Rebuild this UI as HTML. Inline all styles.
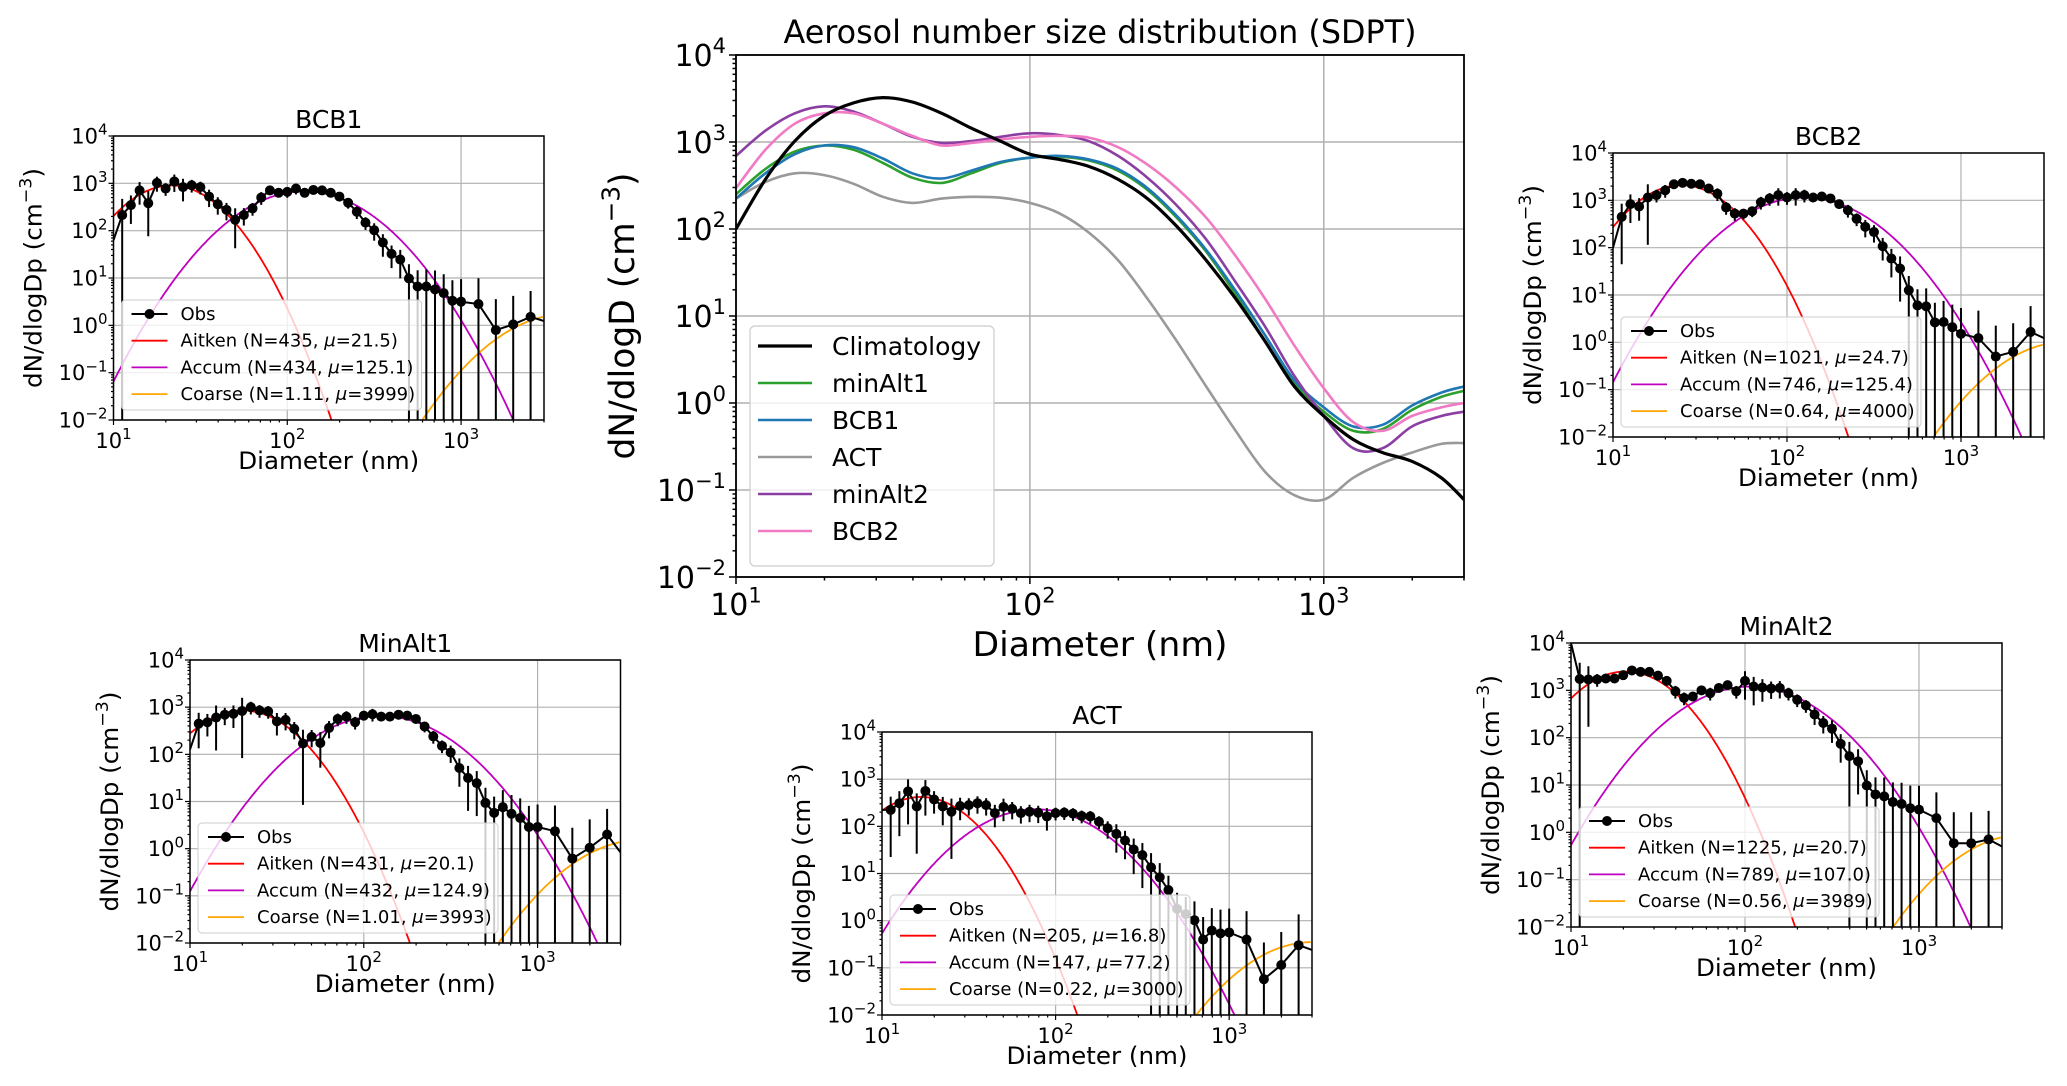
<!DOCTYPE html>
<html><head><meta charset="utf-8"><style>
html,body{margin:0;padding:0;background:#fff;}
svg{display:block;font-family:"DejaVu Sans","Liberation Sans",sans-serif;}
</style></head><body>
<svg id="fig" width="2067" height="1086" viewBox="0 0 2067 1086" xmlns="http://www.w3.org/2000/svg"></svg>
<script>
// ---------- shared categories ----------
const obsDiameters=[11.22,12.59,14.13,15.85,17.78,19.95,22.39,25.12,28.18,31.62,35.48,39.81,44.67,50.12,56.23,63.10,70.79,79.43,89.13,100,112.2,125.9,141.3,158.5,177.8,199.5,223.9,251.2,281.8,316.2,354.8,398.1,446.7,501.2,562.3,631.0,707.9,794.3,891.3,1000,1259,1585,1995,2512];
const yTickExps=[-2,-1,0,1,2,3,4];
const xTickExps=[1,2,3];
const modeNames=["Aitken","Accum","Coarse"];

// ---------- BCB1 ----------
const bcb1ObsLog=[2.33,2.54,2.85,2.58,3.01,2.89,3.04,2.92,2.96,2.92,2.72,2.56,2.44,2.23,2.33,2.47,2.70,2.85,2.80,2.82,2.89,2.80,2.86,2.85,2.80,2.72,2.59,2.40,2.17,2.01,1.75,1.51,1.39,0.99,0.82,0.82,0.76,0.68,0.52,0.50,0.45,-0.10,0.02,0.18];
const bcb1ObsErr=[1.2,0.6,0.5,0.8,0.35,0.3,0.4,0.5,0.3,0.3,0.4,0.4,0.4,0.75,0.4,0.3,0.3,0.2,0.2,0.25,0.25,0.2,0.2,0.2,0.2,0.2,0.25,0.3,0.3,0.4,0.5,0.5,0.6,1.0,1.2,1.3,1.5,1.5,1.7,2.0,2.5,3.5,3.0,2.5];
const bcb1EdgeLog=[1.8,0.09];
const bcb1ModeN=[435,434,1.11];
const bcb1ModeMu=[21.5,125.1,3999];
const bcb1ModeSig=[0.193,0.255,0.257];

// ---------- BCB2 ----------
const bcb2ObsLog=[2.65,2.92,2.87,3.06,3.11,3.21,3.34,3.37,3.35,3.34,3.25,3.14,2.85,2.72,2.72,2.77,2.96,3.04,3.11,3.06,3.11,3.11,3.06,3.08,3.04,2.92,2.79,2.61,2.44,2.33,2.03,1.77,1.56,1.10,0.78,0.76,0.42,0.43,0.32,0.18,0.09,-0.30,-0.20,0.22];
const bcb2ObsErr=[0.9,0.6,0.5,0.9,0.3,0.3,0.2,0.2,0.2,0.2,0.2,0.3,0.3,0.3,0.25,0.25,0.3,0.3,0.4,0.3,0.4,0.3,0.2,0.2,0.2,0.2,0.3,0.3,0.4,0.4,0.5,0.6,0.8,1.0,1.2,1.4,1.6,1.8,2.0,2.5,2.8,3.5,3.0,2.5];
const bcb2EdgeLog=[2.0,0.09];
const bcb2ModeN=[1021,746,0.64];
const bcb2ModeMu=[24.7,125.4,4000];
const bcb2ModeSig=[0.194,0.259,0.25];

// ---------- MinAlt1 ----------
const minalt1ObsLog=[2.65,2.68,2.78,2.84,2.86,2.92,3.00,2.93,2.91,2.70,2.73,2.54,2.23,2.37,2.24,2.56,2.75,2.80,2.68,2.82,2.85,2.80,2.80,2.84,2.82,2.75,2.59,2.38,2.18,2.04,1.71,1.50,1.39,0.97,0.76,0.88,0.74,0.65,0.46,0.46,0.37,-0.21,0.02,0.30];
const minalt1ObsErr=[0.7,0.5,0.8,0.4,0.5,0.9,0.3,0.3,0.3,0.5,0.4,0.4,0.95,0.4,0.7,0.4,0.3,0.3,0.3,0.2,0.3,0.2,0.2,0.2,0.2,0.2,0.25,0.3,0.3,0.4,0.6,0.8,0.8,1.1,1.2,1.3,1.5,1.6,1.8,2.0,2.5,3.5,3.0,2.5];
const minalt1EdgeLog=[2.1,-0.08];
const minalt1ModeN=[431,432,1.01];
const minalt1ModeMu=[20.1,124.9,3993];
const minalt1ModeSig=[0.202,0.265,0.26];

// ---------- ACT ----------
const actObsLog=[2.35,2.49,2.74,2.42,2.75,2.57,2.42,2.31,2.43,2.45,2.49,2.45,2.28,2.41,2.37,2.28,2.31,2.29,2.21,2.28,2.29,2.27,2.22,2.21,2.10,1.96,1.84,1.70,1.51,1.39,1.13,0.92,0.65,0.25,0.14,0.01,-0.40,-0.21,-0.27,-0.25,-0.40,-1.24,-0.94,-0.52];
const actObsErr=[0.9,0.8,0.8,0.9,0.7,0.5,0.6,0.9,0.5,0.4,0.4,0.4,0.5,0.5,0.4,0.4,0.4,0.4,0.5,0.3,0.3,0.3,0.3,0.3,0.3,0.4,0.6,0.6,0.7,0.8,1.0,1.0,1.0,1.2,1.3,1.5,2.0,2.0,2.2,2.2,3.0,5.0,4.0,3.5];
const actEdgeLog=[2.35,-0.62];
const actModeN=[205,147,0.22];
const actModeMu=[16.8,77.2,3000];
const actModeSig=[0.195,0.255,0.25];

// ---------- MinAlt2 ----------
const minalt2ObsLog=[3.24,3.23,3.23,3.25,3.25,3.32,3.42,3.39,3.39,3.31,3.20,2.98,2.84,2.87,3.00,2.94,3.05,3.11,2.98,3.20,3.08,3.06,3.04,3.05,2.94,2.80,2.68,2.49,2.31,2.19,1.87,1.61,1.50,0.99,0.80,0.76,0.64,0.60,0.51,0.48,0.30,-0.23,-0.23,-0.15];
const minalt2ObsErr=[1.2,0.9,0.3,0.2,0.2,0.2,0.2,0.2,0.2,0.2,0.2,0.3,0.3,0.2,0.2,0.3,0.2,0.2,0.3,0.6,0.6,0.5,0.4,0.4,0.3,0.3,0.3,0.4,0.4,0.5,0.6,1.0,0.8,1.1,1.3,1.5,1.6,1.8,2.0,2.2,2.5,3.5,3.5,3.0];
const minalt2EdgeLog=[4.0,-0.30];
const minalt2ModeN=[1225,789,0.56];
const minalt2ModeMu=[20.7,107.0,3989];
const minalt2ModeSig=[0.195,0.262,0.25];

// ---------- main chart (log10 dN/dlogD at sampled diameters) ----------
const mainLogD=[1.0,1.1,1.2,1.3,1.4,1.5,1.6,1.7,1.8,1.9,2.0,2.1,2.2,2.3,2.4,2.5,2.6,2.7,2.8,2.9,3.0,3.1,3.2,3.3,3.4,3.477];
const climatologyLog=[2.0,2.57,3.01,3.30,3.45,3.51,3.46,3.33,3.16,3.01,2.86,2.80,2.72,2.57,2.35,2.03,1.64,1.20,0.71,0.19,-0.15,-0.42,-0.57,-0.67,-0.86,-1.11];
const minAlt1Log=[2.40,2.69,2.89,2.96,2.91,2.76,2.59,2.53,2.64,2.76,2.82,2.83,2.79,2.67,2.45,2.13,1.74,1.25,0.71,0.22,-0.10,-0.32,-0.30,-0.08,0.07,0.14];
const bcb1Log=[2.35,2.64,2.86,2.96,2.94,2.81,2.64,2.58,2.67,2.77,2.82,2.84,2.80,2.69,2.47,2.15,1.76,1.29,0.78,0.26,-0.05,-0.27,-0.25,-0.03,0.12,0.19];
const actLog=[2.35,2.54,2.64,2.62,2.52,2.37,2.30,2.35,2.37,2.36,2.30,2.18,1.96,1.64,1.20,0.71,0.19,-0.32,-0.79,-1.06,-1.11,-0.86,-0.69,-0.57,-0.47,-0.46];
const minAlt2Log=[2.84,3.13,3.33,3.41,3.35,3.21,3.06,2.99,3.01,3.06,3.10,3.08,3.01,2.84,2.59,2.27,1.88,1.39,0.88,0.31,-0.15,-0.52,-0.52,-0.27,-0.15,-0.10];
const bcb2Log=[2.47,2.91,3.21,3.33,3.33,3.21,3.07,2.96,2.99,3.03,3.06,3.07,3.05,2.94,2.74,2.47,2.13,1.69,1.20,0.66,0.17,-0.22,-0.32,-0.15,-0.05,0.00];
const mainSeriesNames=["Climatology","minAlt1","BCB1","ACT","minAlt2","BCB2"];

const NS="http://www.w3.org/2000/svg";
const svg=document.getElementById('fig');
function mk(tag,attrs,parent){const e=document.createElementNS(NS,tag);for(const k in attrs)e.setAttribute(k,attrs[k]);(parent||svg).appendChild(e);return e;}
const XLO=1,XHI=Math.log10(3000),YLO=-2,YHI=4;
function xScaleLog(x0,w){return l=>x0+(l-XLO)/(XHI-XLO)*w;}
function yScaleLog(y0,h){return l=>y0+h-(l-YLO)/(YHI-YLO)*h;}
function supLabel(parent,x,y,base,exp,size,anchor){
  const t=mk('text',{x:x,y:y,'font-size':size,'text-anchor':anchor,fill:'#000'},parent);
  
  
  t.appendChild(document.createTextNode(base));
  const s=mk('tspan',{'font-size':Math.round(size*0.7),dy:-size*0.42},t);
  s.textContent=exp<0?('\u2212'+(-exp)):String(exp);
  return t;
}
let clipId=0;
function axesFrame(g,x0,y0,w,h,opt){
  const X=xScaleLog(x0,w),Y=yScaleLog(y0,h);
  const grid=mk('g',{stroke:'#b0b0b0','stroke-width':opt.grid},g);
  
  
  xTickExps.forEach(e=>{const l=mk('line',{x1:X(e),x2:X(e),y1:y0,y2:y0+h},grid);});
  yTickExps.forEach(e=>{const l=mk('line',{x1:x0,x2:x0+w,y1:Y(e),y2:Y(e)},grid);});
  return {X,Y};
}
function axesDecor(g,x0,y0,w,h,opt){
  const X=xScaleLog(x0,w),Y=yScaleLog(y0,h);
  const ticks=mk('g',{stroke:'#000','stroke-width':opt.tw},g);
  
  
  for(let d=1;d<=3;d++){for(let k=1;k<=9;k++){const l=d+Math.log10(k);if(l>XHI+1e-9)continue;const len=k===1?opt.maj:opt.min;
    const t=mk('line',{x1:X(l),x2:X(l),y1:y0+h,y2:y0+h+len},ticks);}}
  for(let d=-2;d<=4;d++){for(let k=1;k<=9;k++){const l=d+Math.log10(k);if(l>YHI+1e-9)continue;const len=k===1?opt.maj:opt.min;
    const t=mk('line',{x1:x0-len,x2:x0,y1:Y(l),y2:Y(l)},ticks);}}
  const box=mk('rect',{x:x0,y:y0,width:w,height:h,fill:'none',stroke:'#000','stroke-width':opt.sw},g);
  
  
  xTickExps.forEach(e=>supLabel(g,X(e),y0+h+opt.xlOff,'10',e,opt.fs,'middle'));
  yTickExps.forEach(e=>supLabel(g,x0-opt.ylOff,Y(e)+opt.fs*0.36,'10',e,opt.fs,'end'));
}
function addText(parent,x,y,size,txt,name,len,anchor){
  const t=mk('text',{x:x,y:y,'font-size':size,'text-anchor':anchor||'middle',fill:'#000'},parent);
  if(len){t.setAttribute('textLength',len);t.setAttribute('lengthAdjust','spacingAndGlyphs');}
  
  
  t.textContent=txt;return t;
}
function ylabel(parent,cx,cy,size,base,name,len){
  const t=mk('text',{x:0,y:0,'font-size':size,'text-anchor':'middle',fill:'#000',transform:`translate(${cx},${cy}) rotate(-90)`},parent);
  
  
  if(len){t.setAttribute('textLength',len);t.setAttribute('lengthAdjust','spacingAndGlyphs');}
  t.appendChild(document.createTextNode(base+' (cm'));
  const s=mk('tspan',{'font-size':Math.round(size*0.7),dy:-size*0.42},t);s.textContent='\u22123';
  const s2=mk('tspan',{dy:size*0.42},t);s2.textContent=')';
}
const modeColors=['#ff0000','#bf00bf','#ffa500'];
function smallPanel(cfg){
  const {name,title,x0,y0,w,h,obsLog,obsErr,edgeLog,modeN,modeMu,modeSig}=cfg;
  const g=mk('g',{});
  
  
  const {X,Y}=axesFrame(g,x0,y0,w,h,{grid:1.2});
  const cid='clip'+(clipId++);
  const cp=mk('clipPath',{id:cid},g);mk('rect',{x:x0,y:y0,width:w,height:h},cp);
  const pg=mk('g',{'clip-path':`url(#${cid})`},g);
  
  
  for(let m=0;m<3;m++){
    let d='';
    for(let l=XLO;l<=XHI+1e-9;l+=0.01){
      const s=modeSig[m];
      const v=modeN[m]/(Math.sqrt(2*Math.PI)*s)*Math.exp(-Math.pow(l-Math.log10(modeMu[m]),2)/(2*s*s));
      const lv=Math.max(Math.log10(Math.max(v,1e-300)),YLO-1);
      d+=(d?'L':'M')+X(l).toFixed(1)+','+Y(lv).toFixed(1);
    }
    const p=mk('path',{d:d,fill:'none',stroke:modeColors[m],'stroke-width':1.8},pg);
    
    
  }
  const bot=YLO-1;
  obsDiameters.forEach((D,i)=>{
    const v=Math.pow(10,obsLog[i]),r=obsErr[i];
    const top=Math.log10(v*(1+r));const lo=r>=1?bot:Math.log10(v*(1-r));
    const b=mk('line',{x1:X(Math.log10(D)),x2:X(Math.log10(D)),y1:Y(top),y2:Y(lo),stroke:'#000','stroke-width':2},pg);
    
    
  });
  let d='M'+X(XLO)+','+Y(edgeLog[0]);
  obsDiameters.forEach((D,i)=>{d+='L'+X(Math.log10(D)).toFixed(1)+','+Y(obsLog[i]).toFixed(1);});
  d+='L'+X(XHI)+','+Y(edgeLog[1]);
  const ol=mk('path',{d:d,fill:'none',stroke:'#000','stroke-width':2},pg);
  
  
  obsDiameters.forEach((D,i)=>{
    const c=mk('circle',{cx:X(Math.log10(D)),cy:Y(obsLog[i]),r:5,fill:'#000'},pg);
    
    
  });
  axesDecor(g,x0,y0,w,h,{tw:1.2,maj:5,min:2.5,sw:1.5,fs:21,xlOff:28,ylOff:6});
  addText(g,x0+w/2,y0-8,25,title,name+'-title',null);
  addText(g,x0+w/2,y0+h+49,24,'Diameter (nm)','x-axis-title',181);
  ylabel(g,x0-72,y0+h/2,24,'dN/dlogDp','y-axis-title',220);
  const lx=x0+8,ly=y0+h-120;
  const lg=mk('g',{},g);
  
  
  const fr=mk('rect',{x:lx,y:ly,width:300,height:110,rx:4,fill:'#fff','fill-opacity':0.8,stroke:'#cccccc','stroke-width':1},lg);
  
  
  const labels=[['Obs',null],['Aitken (N='+modeN[0]+', ','=' +modeMu[0]+')'],['Accum (N='+modeN[1]+', ','='+modeMu[1].toFixed(1)+')'],['Coarse (N='+modeN[2]+', ','='+modeMu[2]+')']];
  const cols=['#000'].concat(modeColors);
  labels.forEach((lb,i)=>{
    const yy=ly+14+26.7*i;
    const e=mk('g',{},lg);
    
    
    mk('line',{x1:lx+10,x2:lx+46,y1:yy,y2:yy,stroke:cols[i],'stroke-width':i===0?2:1.8},e);
    if(i===0)mk('circle',{cx:lx+28,cy:yy,r:5,fill:'#000'},e);
    const t=mk('text',{x:lx+59,y:yy+6,'font-size':18,fill:'#000'},e);
    t.appendChild(document.createTextNode(lb[0]));
    if(lb[1]){const mu=mk('tspan',{'font-style':'italic'},t);mu.textContent='\u03bc';t.appendChild(document.createTextNode(lb[1]));}
  });
}
smallPanel({name:'bcb1',title:'BCB1',x0:113.5,y0:136,w:430.5,h:284,obsLog:bcb1ObsLog,obsErr:bcb1ObsErr,edgeLog:bcb1EdgeLog,modeN:bcb1ModeN,modeMu:bcb1ModeMu,modeSig:bcb1ModeSig});
smallPanel({name:'bcb2',title:'BCB2',x0:1613,y0:153,w:431,h:284,obsLog:bcb2ObsLog,obsErr:bcb2ObsErr,edgeLog:bcb2EdgeLog,modeN:bcb2ModeN,modeMu:bcb2ModeMu,modeSig:bcb2ModeSig});
smallPanel({name:'minalt1',title:'MinAlt1',x0:190,y0:660,w:430.5,h:283,obsLog:minalt1ObsLog,obsErr:minalt1ObsErr,edgeLog:minalt1EdgeLog,modeN:minalt1ModeN,modeMu:minalt1ModeMu,modeSig:minalt1ModeSig});
smallPanel({name:'act',title:'ACT',x0:882,y0:732,w:430,h:283,obsLog:actObsLog,obsErr:actObsErr,edgeLog:actEdgeLog,modeN:actModeN,modeMu:actModeMu,modeSig:actModeSig});
smallPanel({name:'minalt2',title:'MinAlt2',x0:1571,y0:643,w:431,h:284,obsLog:minalt2ObsLog,obsErr:minalt2ObsErr,edgeLog:minalt2EdgeLog,modeN:minalt2ModeN,modeMu:minalt2ModeMu,modeSig:minalt2ModeSig});

// ---------- main chart ----------
(function(){
  const x0=736,y0=55,w=728,h=522;
  const g=mk('g',{});
  
  
  const {X,Y}=axesFrame(g,x0,y0,w,h,{grid:1.5});
  const cp=mk('clipPath',{id:'mainclip'},g);mk('rect',{x:x0,y:y0,width:w,height:h},cp);
  const pg=mk('g',{'clip-path':'url(#mainclip)'},g);
  
  
  const series=[climatologyLog,minAlt1Log,bcb1Log,actLog,minAlt2Log,bcb2Log];
  const colors=['#000000','#2ca02c','#1f77b4','#999999','#8b3fa3','#f07ac4'];
  const widths=[3.2,2.6,2.6,2.6,2.6,2.6];
  const order=[3,1,2,4,5,0];
  function pathFor(arr){
    const pts=mainLogD.map((l,i)=>[X(l),Y(arr[i])]);
    let d='M'+pts[0][0].toFixed(1)+','+pts[0][1].toFixed(1);
    for(let i=0;i<pts.length-1;i++){
      const p0=pts[Math.max(0,i-1)],p1=pts[i],p2=pts[i+1],p3=pts[Math.min(pts.length-1,i+2)];
      const c1=[p1[0]+(p2[0]-p0[0])/6,p1[1]+(p2[1]-p0[1])/6],c2=[p2[0]-(p3[0]-p1[0])/6,p2[1]-(p3[1]-p1[1])/6];
      d+='C'+c1[0].toFixed(1)+','+c1[1].toFixed(1)+' '+c2[0].toFixed(1)+','+c2[1].toFixed(1)+' '+p2[0].toFixed(1)+','+p2[1].toFixed(1);
    }
    return d;
  }
  order.forEach(i=>{
    const p=mk('path',{d:pathFor(series[i]),fill:'none',stroke:colors[i],'stroke-width':widths[i]},pg);
    
    
  });
  axesDecor(g,x0,y0,w,h,{tw:1.5,maj:7,min:3.5,sw:1.8,fs:30,xlOff:38,ylOff:10});
  addText(g,x0+w/2,y0-12,32,'Aerosol number size distribution (SDPT)','main-title',633);
  addText(g,x0+w/2,y0+h+79,34,'Diameter (nm)','main-x-axis-title',255);
  ylabel(g,634,y0+h/2,35,'dN/dlogD','main-y-axis-title',287);
  const lg=mk('g',{},g);
  
  
  const fr=mk('rect',{x:750,y:326,width:244,height:240,rx:5,fill:'#fff','fill-opacity':0.8,stroke:'#cccccc','stroke-width':1.2},lg);
  
  
  mainSeriesNames.forEach((n,i)=>{
    const yy=346+37*i;
    const e=mk('g',{},lg);
    
    
    mk('line',{x1:758,x2:812,y1:yy,y2:yy,stroke:colors[i],'stroke-width':widths[i]},e);
    const t=mk('text',{x:832,y:yy+9,'font-size':25,fill:'#000'},e);
    t.textContent=n;
  });
})();
</script>
</body></html>
